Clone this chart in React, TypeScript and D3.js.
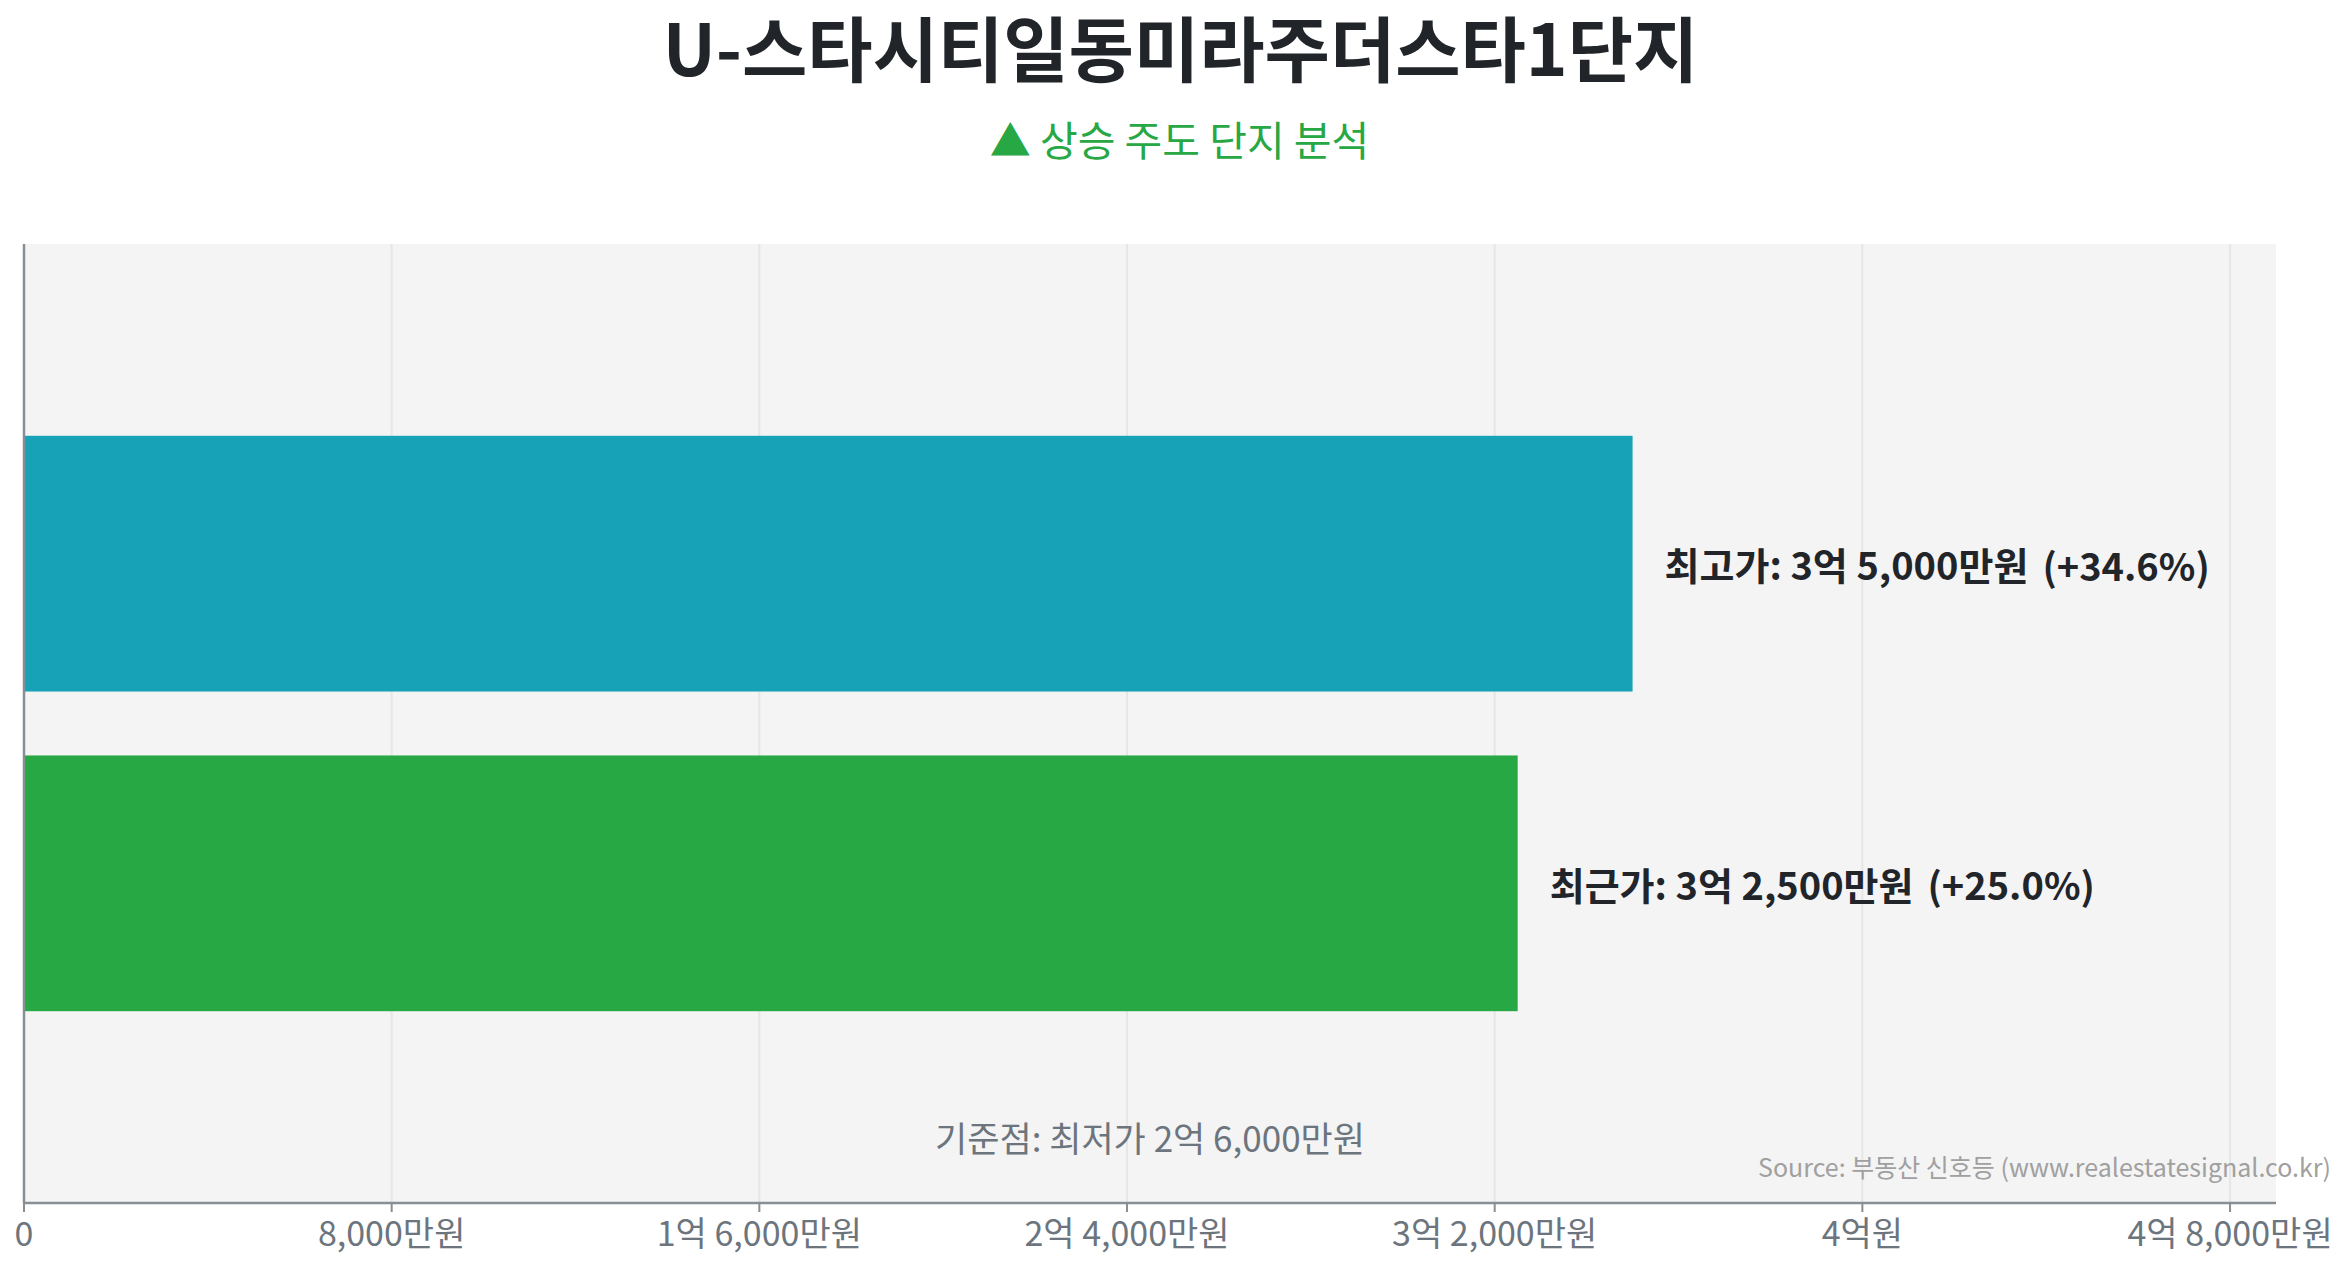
import React from "react";
import * as d3 from "d3";

const title = "U-스타시티일동미라주더스타1단지";
const subtitle = "▲ 상승 주도 단지 분석";
const categories = ["최고가", "최근가"];
const values = [35000, 32500]; // 만원
const changes = ["+34.6%", "+25.0%"];
const barColors = ["#17a2b8", "#28a745"];
const baseValue = 26000;
const tickValues = [0, 8000, 16000, 24000, 32000, 40000, 48000];
const sourceText = "Source: 부동산 신호등 (www.realestatesignal.co.kr)";

const W = 2349;
const H = 1268;
const FONT = "'Noto Sans CJK KR', 'Noto Sans', sans-serif";

function fmtMan(v: number): string {
  if (v === 0) return "0";
  const eok = Math.floor(v / 10000);
  const man = v % 10000;
  const manStr = man ? d3.format(",")(man) + "만원" : "";
  if (eok && man) return `${eok}억 ${manStr}`;
  if (eok) return `${eok}억원`;
  return manStr;
}

export default function App() {
  const left = 24;
  const right = 2276;
  const top = 244;
  const bottom = 1203;
  const x = d3.scaleLinear().domain([0, 49000]).range([left, right]);
  const y = d3
    .scaleBand<string>()
    .domain(categories)
    .range([top, bottom])
    .paddingInner(0.2)
    .paddingOuter(0.6);

  return (
    <svg
      width={W}
      height={H}
      style={{ position: "absolute", left: 0, top: 0, fontFamily: FONT }}
    >
      <rect x={0} y={0} width={W} height={H} fill="#ffffff" />
      <text
        x={W / 2 + 6}
        y={45}
        textAnchor="middle"
        dominantBaseline="central"
        fontSize={71}
        fontWeight={700}
        fill="#212529"
      >
        {title}
      </text>
      <text
        x={W / 2 + 5}
        y={138}
        textAnchor="middle"
        dominantBaseline="central"
        fontSize={41}
        fill="#28a745"
      >
        {subtitle}
      </text>

      <rect x={left} y={top} width={right - left} height={bottom - top} fill="#f4f4f4" />
      {tickValues.map((t) => (
        <line
          key={"g" + t}
          x1={x(t)}
          x2={x(t)}
          y1={top}
          y2={bottom}
          stroke="#e6e6e6"
          strokeWidth={2}
        />
      ))}

      {categories.map((c, i) => (
        <g key={c}>
          <rect
            x={x(0)}
            y={y(c)!}
            width={x(values[i]) - x(0)}
            height={y.bandwidth()}
            fill={barColors[i]}
          />
          <text
            x={x(values[i]) + 32}
            y={y(c)! + y.bandwidth() / 2}
            dominantBaseline="central"
            fontSize={38}
            fontWeight={700}
            fill="#212529"
          >
            {`${c}: ${fmtMan(values[i])}`}
            <tspan dx={14}>{`(${changes[i]})`}</tspan>
          </text>
        </g>
      ))}

      <text
        x={(left + right) / 2}
        y={1136}
        textAnchor="middle"
        dominantBaseline="central"
        fontSize={35}
        fill="#6c757d"
      >
        {`기준점: 최저가 ${fmtMan(baseValue)}`}
      </text>
      <text
        x={2331}
        y={1166}
        textAnchor="end"
        dominantBaseline="central"
        fontSize={25}
        fill="#a0a0a0"
      >
        {sourceText}
      </text>

      <line x1={left} x2={left} y1={top} y2={bottom} stroke="#868e96" strokeWidth={2.5} />
      <line x1={left} x2={right} y1={bottom} y2={bottom} stroke="#868e96" strokeWidth={2.5} />
      {tickValues.map((t) => (
        <g key={"t" + t}>
          <line x1={x(t)} x2={x(t)} y1={bottom} y2={bottom + 9} stroke="#868e96" strokeWidth={2} />
          <text
            x={x(t)}
            y={1231}
            textAnchor="middle"
            dominantBaseline="central"
            fontSize={34}
            fill="#6c757d"
          >
            {fmtMan(t)}
          </text>
        </g>
      ))}
    </svg>
  );
}
